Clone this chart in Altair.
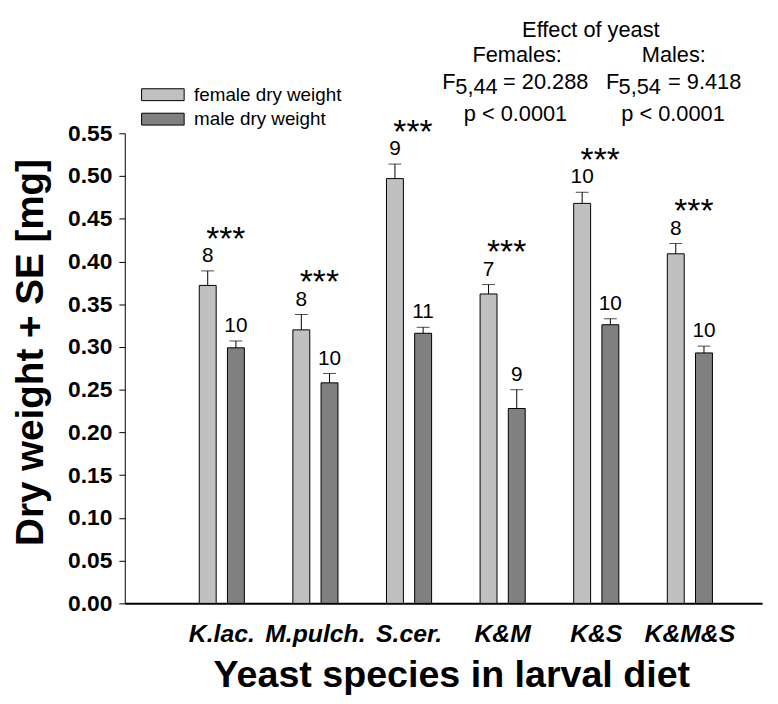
import altair as alt
import pandas as pd

categories = ["K.lac.", "M.pulch.", "S.cer.", "K&M", "K&S", "K&M&S"]
female_mean = [0.372, 0.320, 0.497, 0.362, 0.468, 0.409]
female_se = [0.017, 0.018, 0.017, 0.011, 0.013, 0.012]
female_n = [8, 8, 9, 7, 10, 8]
male_mean = [0.299, 0.258, 0.316, 0.228, 0.326, 0.293]
male_se = [0.008, 0.011, 0.007, 0.022, 0.007, 0.008]
male_n = [10, 10, 11, 9, 10, 10]
sexes = ["female dry weight", "male dry weight"]
bar_colors = ["#C0C0C0", "#808080"]
signif = ["***", "***", "***", "***", "***", "***"]
y_ticks = [0.00, 0.05, 0.10, 0.15, 0.20, 0.25, 0.30, 0.35, 0.40, 0.45, 0.50, 0.55]

FONT = "Liberation Sans, Arial, sans-serif"

rows = []
for i, c in enumerate(categories):
    rows.append({"cat": c, "sex": sexes[0], "mean": female_mean[i], "se": female_se[i],
                 "upper": female_mean[i] + female_se[i], "n": str(female_n[i])})
    rows.append({"cat": c, "sex": sexes[1], "mean": male_mean[i], "se": male_se[i],
                 "upper": male_mean[i] + male_se[i], "n": str(male_n[i])})
df = pd.DataFrame(rows)
sig_df = pd.DataFrame({"cat": categories, "sig": signif,
                       "top": [m + s for m, s in zip(female_mean, female_se)]})

xenc = alt.X("cat:N", sort=categories,
             scale=alt.Scale(paddingInner=0.518, paddingOuter=0.663, align=0.6, round=False),
             axis=alt.Axis(title="Yeast species in larval diet", labelAngle=0,
                           labelFont=FONT, labelFontSize=25, labelFontWeight="bold",
                           labelFontStyle="italic", labelColor="black", labelPadding=19,
                           ticks=False, domainColor="black", domainWidth=2,
                           titleFont=FONT, titleFontSize=38, titleFontWeight="bold",
                           titleColor="black", titlePadding=10, titleX=330))
xoff = alt.XOffset("sex:N", sort=sexes,
                   scale=alt.Scale(paddingInner=0.4, paddingOuter=0, round=False))
yscale = alt.Scale(domain=[0, 0.55], nice=False, zero=True)
yaxis = alt.Axis(title="Dry weight + SE [mg]", values=y_ticks, format=".2f",
                 labelFont=FONT, labelFontSize=23, labelFontWeight="bold", labelColor="black",
                 labelPadding=7, tickSize=6, tickColor="black", domainColor="black",
                 grid=False, titleFont=FONT, titleFontSize=39, titleFontWeight="bold",
                 titleColor="black", titleX=-95, titleY=221, titleAngle=-90,
                 titleAlign="center", titleBaseline="middle")

base = alt.Chart(df)
bars = base.mark_bar(stroke="black", strokeWidth=1).encode(
    x=xenc, xOffset=xoff,
    y=alt.Y("mean:Q", scale=yscale, axis=yaxis),
    fill=alt.Fill("sex:N", scale=alt.Scale(domain=sexes, range=bar_colors), legend=None),
)
err = base.mark_rule(color="black", strokeWidth=1).encode(
    x=alt.X("cat:N", sort=categories), xOffset=xoff,
    y="mean:Q", y2="upper:Q")
caps = base.mark_tick(color="black", thickness=1, size=13, orient="horizontal").encode(
    x=alt.X("cat:N", sort=categories), xOffset=xoff, y="upper:Q")
ntext = base.mark_text(font=FONT, fontSize=21, baseline="alphabetic", dy=-9, color="black").encode(
    x=alt.X("cat:N", sort=categories), xOffset=xoff, y="upper:Q", text="n:N")
stars = alt.Chart(sig_df).mark_text(font=FONT, fontSize=34, baseline="alphabetic",
                                    dy=-21.5, dx=4, color="black").encode(
    x=alt.X("cat:N", sort=categories), y="top:Q", text="sig:N")

one = pd.DataFrame({"a": [0]})

def label(txt, x, y, size=22, align="center", baseline="alphabetic"):
    return alt.Chart(one).mark_text(text=txt, font=FONT, fontSize=size, align=align,
                                    baseline=baseline, color="black").encode(
        x=alt.value(x), y=alt.value(y))

annot = [
    label("Effect of yeast", 471, -97.7),
    label("Females:", 396.5, -71.7),
    label("Males:", 554.8, -71.7),
    label("F", 320.7, -45, align="left"),
    label("5,44", 334, -39.3, align="left"),
    label("= 20.288", 382.3, -45, align="left"),
    label("F", 486.3, -45, align="left"),
    label("5,54", 499, -39.3, align="left"),
    label("= 9.418", 549, -45, align="left"),
    label("p < 0.0001", 394.8, -12.7),
    label("p < 0.0001", 554, -12.7),
]

legend_layers = []
sw_y = [-39, -14.3]
for i in range(2):
    legend_layers.append(alt.Chart(one).mark_rect(fill=bar_colors[i], stroke="black", strokeWidth=1).encode(
        x=alt.value(17), x2=alt.value(60), y=alt.value(sw_y[i] - 6), y2=alt.value(sw_y[i] + 6)))
    legend_layers.append(label(sexes[i], 70, sw_y[i], size=19, align="left", baseline="middle"))

chart = alt.layer(bars, err, caps, ntext, stars, *annot, *legend_layers).properties(
    width=644, height=475,
    autosize=alt.AutoSizeParams(type="none"),
    padding={"left": 118, "top": 123, "right": 8, "bottom": 90},
).configure_view(stroke=None)

chart.save("out.html", embed_options={"renderer": "svg", "actions": False})
